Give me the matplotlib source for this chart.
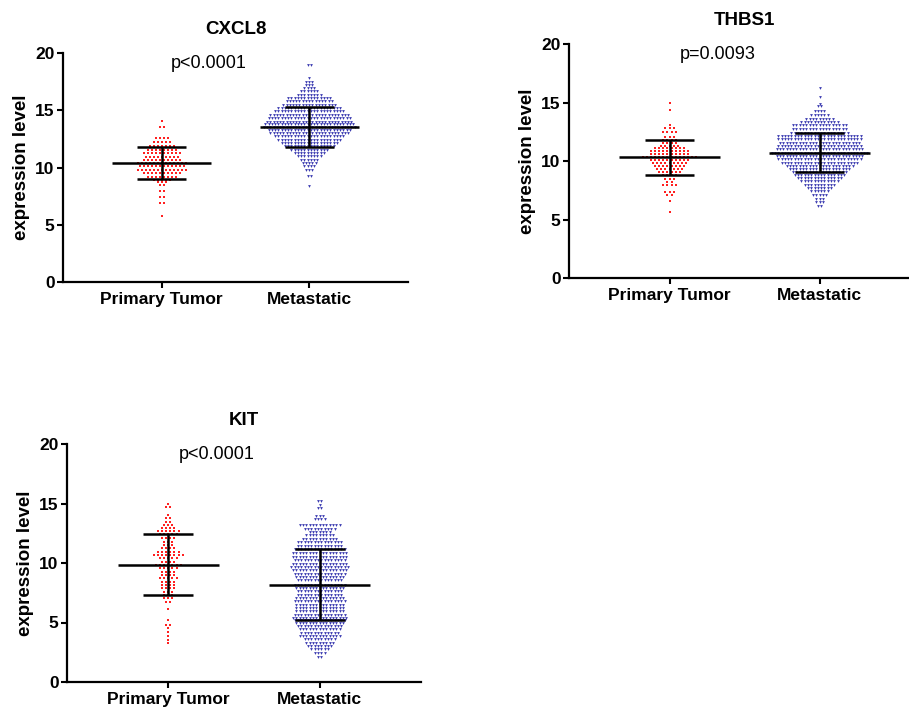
import numpy as np
import matplotlib
matplotlib.use("Agg")
import matplotlib.pyplot as plt

plt.rcParams["font.family"] = ["Liberation Sans", "DejaVu Sans"]

groups = ["Primary Tumor", "Metastatic"]
genes = ["CXCL8", "THBS1", "KIT"]
p_labels = ["p<0.0001", "p=0.0093", "p<0.0001"]

# mean and mean-SD / mean+SD
cxcl8_mean = [10.38, 13.56]
cxcl8_low = [8.98, 11.82]
cxcl8_high = [11.83, 15.31]
thbs1_mean = [10.34, 10.71]
thbs1_low = [8.77, 9.07]
thbs1_high = [11.8, 12.38]
kit_mean = [9.87, 8.16]
kit_low = [7.34, 5.21]
kit_high = [12.4, 11.15]

# dot rows: expression value of each row and number of dots in it
cxcl8_pt_levels = [14.06, 13.5, 12.55, 12.2, 11.85, 11.55, 11.25, 10.95, 10.65, 10.4,
                   10.13, 9.8, 9.5, 9.2, 8.95, 8.72, 8.47, 7.95, 7.4, 6.93, 5.76]
cxcl8_pt_counts = [1, 2, 4, 5, 7, 8, 10, 9, 10, 13, 12, 13, 10, 8, 5, 3, 2, 2, 2, 2, 1]
cxcl8_met_levels = [18.98, 17.8, 17.5, 17.2, 16.9, 16.65, 16.36, 16.07, 15.78, 15.49,
                    15.2, 14.9, 14.6, 14.3, 14.0, 13.76, 13.54, 13.3, 13.0, 12.72,
                    12.43, 12.14, 11.85, 11.55, 11.27, 10.98, 10.68, 10.4, 10.1, 9.8,
                    9.23, 8.36]
cxcl8_met_counts = [2, 1, 3, 3, 4, 6, 8, 14, 15, 17, 20, 22, 25, 26, 27, 28, 29, 26, 25,
                    22, 20, 18, 16, 12, 10, 8, 6, 5, 4, 3, 2, 1]

thbs1_pt_levels = [15.0, 14.33, 13.1, 12.8, 12.45, 12.08, 11.8, 11.5, 11.3, 11.08, 10.85,
                   10.6, 10.34, 10.09, 9.86, 9.6, 9.32, 9.03, 8.77, 8.46, 8.18, 7.95,
                   7.38, 7.1, 6.58, 5.67]
thbs1_pt_counts = [1, 1, 1, 3, 4, 3, 4, 4, 5, 8, 10, 10, 14, 10, 9, 8, 7, 6, 4, 3, 2, 4,
                   3, 2, 1, 1]
thbs1_met_levels = [16.2, 15.47, 14.9, 14.7, 14.25, 13.9, 13.6, 13.35, 13.1, 12.76, 12.42,
                    12.14, 11.85, 11.57, 11.28, 11.0, 10.71, 10.43, 10.14, 9.86, 9.57,
                    9.3, 9.06, 8.83, 8.55, 8.26, 7.98, 7.7, 7.41, 7.07, 6.78, 6.5, 6.15]
thbs1_met_counts = [1, 1, 1, 2, 4, 6, 9, 12, 17, 17, 18, 26, 26, 25, 26, 27, 30, 27, 26,
                    24, 21, 19, 17, 16, 14, 12, 10, 8, 6, 5, 3, 3, 2]

kit_pt_levels = [14.93, 14.73, 14.03, 13.75, 13.47, 13.19, 12.91, 12.69, 12.4, 12.07,
                 11.79, 11.51, 11.23, 10.95, 10.67, 10.39, 10.11, 9.85, 9.55, 9.27, 8.99,
                 8.71, 8.43, 8.15, 7.87, 7.59, 7.34, 7.03, 6.75, 6.13, 5.21, 4.79, 4.51,
                 4.23, 3.89, 3.53, 3.25]
kit_pt_counts = [1, 2, 1, 2, 2, 3, 4, 6, 5, 4, 3, 3, 4, 6, 8, 5, 4, 7, 5, 4, 4, 5, 4, 4,
                 4, 3, 3, 3, 2, 1, 1, 2, 1, 1, 1, 1, 1]
kit_met_levels = [15.18, 14.9, 14.62, 13.95, 13.73, 13.17, 12.88, 12.6, 12.32, 12.04,
                  11.75, 11.47, 11.18, 10.8, 10.5, 10.22, 9.94, 9.66, 9.38, 9.1, 8.82,
                  8.54, 8.18, 7.9, 7.62, 7.34, 7.06, 6.78, 6.5, 6.22, 5.94, 5.66, 5.42,
                  5.18, 4.94, 4.71, 4.43, 4.14, 3.87, 3.59, 3.3, 3.03, 2.75, 2.46, 2.1]
kit_met_counts = [2, 1, 2, 3, 4, 13, 10, 7, 9, 11, 14, 14, 16, 17, 17, 16, 17, 18, 17, 16,
                  15, 14, 16, 15, 14, 14, 15, 16, 15, 15, 15, 16, 17, 16, 15, 14, 13, 12,
                  13, 10, 9, 8, 6, 4, 2]

panels = [
    (cxcl8_pt_levels, cxcl8_pt_counts, cxcl8_met_levels, cxcl8_met_counts,
     cxcl8_mean, cxcl8_low, cxcl8_high),
    (thbs1_pt_levels, thbs1_pt_counts, thbs1_met_levels, thbs1_met_counts,
     thbs1_mean, thbs1_low, thbs1_high),
    (kit_pt_levels, kit_pt_counts, kit_met_levels, kit_met_counts,
     kit_mean, kit_low, kit_high),
]

RED = "#ff2020"
BLUE = "#3a3ab0"


def swarm(ax, x0, levels, counts, dx, **kw):
    xs, ys = [], []
    for lv, n in zip(levels, counts):
        off = (np.arange(n) - (n - 1) / 2) * dx
        xs.extend(x0 + off)
        ys.extend([lv] * n)
    ax.scatter(xs, ys, linewidths=0, zorder=2, **kw)


W, H = 909, 709
fig = plt.figure(figsize=(W / 100, H / 100), dpi=100)
# axes boxes in pixels: left, top, right, bottom
boxes = [(63, 53, 408, 282), (569, 44, 920, 278), (67, 444, 421, 682)]

for gene, p, box, data in zip(genes, p_labels, boxes, panels):
    l, t, r, b = box
    ax = fig.add_axes([l / W, 1 - b / H, (r - l) / W, (b - t) / H])
    pt_lv, pt_n, met_lv, met_n, mean, low, high = data

    swarm(ax, 0, pt_lv, pt_n, 0.027, s=2.8, marker="s", color=RED)
    swarm(ax, 1, met_lv, met_n, 0.022, s=4.0, marker="v", color=BLUE)

    for i in range(2):
        ax.hlines(mean[i], i - 0.335, i + 0.335, color="black", lw=1.8, zorder=3)
        ax.hlines([low[i], high[i]], i - 0.165, i + 0.165, color="black", lw=1.8, zorder=3)
        ax.vlines(i, low[i], high[i], color="black", lw=1.8, zorder=3)

    ax.set_xlim(-0.67, 1.67)
    ax.set_ylim(0, 20)
    ax.set_yticks([0, 5, 10, 15, 20])
    ax.set_xticks([0, 1])
    ax.set_xticklabels(groups, fontsize=12.5, fontweight="bold")
    for lab in ax.get_yticklabels():
        lab.set_fontsize(12.5)
        lab.set_fontweight("bold")
    ax.tick_params(width=1.5, length=4.5, pad=1.5)
    ax.tick_params(axis="x", pad=3)
    for s in ["top", "right"]:
        ax.spines[s].set_visible(False)
    for s in ["left", "bottom"]:
        ax.spines[s].set_linewidth(1.6)

    ax.set_ylabel("expression level", fontsize=13.5, fontweight="bold")
    ax.yaxis.set_label_coords(-33 / (r - l), 0.5)
    ax.set_title(gene, fontsize=13.5, fontweight="bold", pad=14)
    ax.text(0.32, 18.7, p, ha="center", va="baseline", fontsize=13)

fig.savefig("out.png", dpi=100)
